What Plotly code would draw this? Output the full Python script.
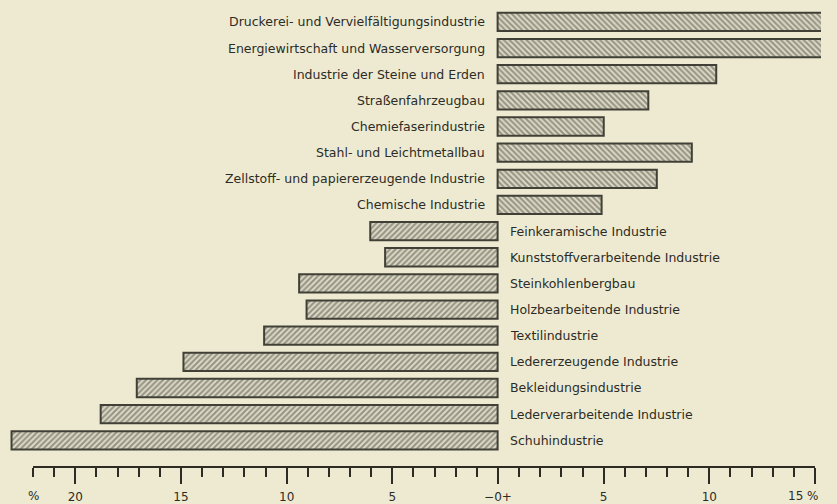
import plotly.graph_objects as go

categories = [
    "Druckerei- und Vervielfältigungsindustrie",
    "Energiewirtschaft und Wasserversorgung",
    "Industrie der Steine und Erden",
    "Straßenfahrzeugbau",
    "Chemiefaserindustrie",
    "Stahl- und Leichtmetallbau",
    "Zellstoff- und papiererzeugende Industrie",
    "Chemische Industrie",
    "Feinkeramische Industrie",
    "Kunststoffverarbeitende Industrie",
    "Steinkohlenbergbau",
    "Holzbearbeitende Industrie",
    "Textilindustrie",
    "Ledererzeugende Industrie",
    "Bekleidungsindustrie",
    "Lederverarbeitende Industrie",
    "Schuhindustrie",
]
values = [15.74, 15.95, 10.3, 7.1, 5.0, 9.15, 7.5, 4.9,
          -6.0, -5.3, -9.35, -9.0, -11.0, -14.8, -17.0, -18.7, -22.9]

tick_vals = [-20, -15, -10, -5, 0, 5, 10, 15]
tick_text = ["20", "15", "10", "5", "−0+", "5", "10", ""]

BG = "#EEEAD2"
INK = "#2c2c25"
FONT = "DejaVu Sans"
W = 820  # effective rendered width

fig = go.Figure()
fig.add_trace(go.Bar(
    x=values, y=categories, orientation="h", width=0.7,
    marker=dict(
        color="#e2decb",
        line=dict(color="#404036", width=2),
        pattern=dict(shape=["\\" if v > 0 else "/" for v in values],
                     fgcolor="#4e4e42", bgcolor="#e2decb", size=4, solidity=0.55),
    ),
    hoverinfo="skip", showlegend=False,
))

annotations = []
for c, v in zip(categories, values):
    annotations.append(dict(
        x=0, y=c, xref="x", yref="y", text=c, showarrow=False,
        xanchor="right" if v > 0 else "left",
        xshift=-11 if v > 0 else 10,
        font=dict(family=FONT, size=12.5, color=INK),
    ))
annotations.append(dict(
    x=-22, y=1 - 498 / 504, xref="x2", yref="paper", text="%", showarrow=False,
    xanchor="center", yanchor="middle", font=dict(family=FONT, size=12, color=INK),
))
annotations.append(dict(
    x=1, y=1 - 498 / 504, xref="paper", yref="paper", text="15 %", showarrow=False,
    xanchor="right", yanchor="middle", font=dict(family=FONT, size=12, color=INK),
))

fig.update_layout(
    height=504,
    margin=dict(l=0, r=0, t=0, b=0),
    paper_bgcolor=BG, plot_bgcolor="rgba(0,0,0,0)",
    xaxis=dict(range=[-497 / 21.2, (W - 497) / 21.2], visible=False, domain=[0, 1]),
    yaxis=dict(range=[18.36, -0.838], visible=False, domain=[0, 1],
               type="category", categoryorder="array", categoryarray=categories),
    xaxis2=dict(anchor="y2", domain=[33 / W, 814 / W], range=[-22, 15],
                showline=True, linewidth=2, linecolor=INK,
                ticks="outside", ticklen=16, tickwidth=1.6, tickcolor=INK,
                tickmode="array", tickvals=tick_vals, ticktext=tick_text,
                ticklabelstandoff=2,
                minor=dict(ticks="outside", dtick=1, tick0=0, ticklen=9,
                           tickwidth=1.6, tickcolor=INK, showgrid=False),
                showgrid=False, zeroline=False,
                tickfont=dict(family=FONT, size=12, color=INK)),
    yaxis2=dict(anchor="x2", domain=[1 - 468 / 504, 1 - 468 / 504 + 0.01],
                visible=False, range=[0, 1]),
    annotations=annotations,
    bargap=0.3,
)

fig.write_html(
    "out.html",
    config={"displayModeBar": False},
    post_script=("document.body.style.margin='0';"
                 "document.body.style.background='%s';" % BG),
)
